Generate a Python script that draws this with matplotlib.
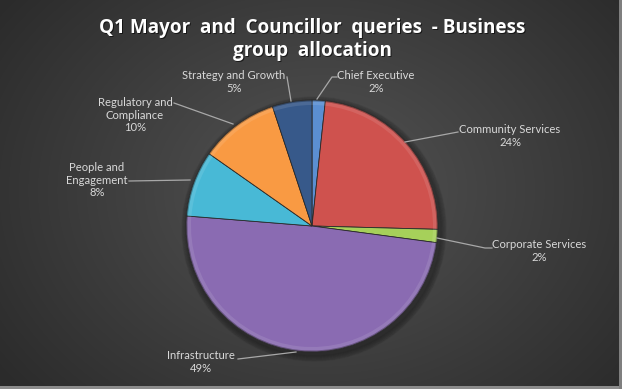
import numpy as np
import matplotlib
matplotlib.use("Agg")
import matplotlib.pyplot as plt
from matplotlib.patches import Wedge

# Query counts per business group (percentages shown on labels)
groups = ["Chief Executive", "Community Services", "Corporate Services",
          "Infrastructure", "People and\nEngagement", "Regulatory and\nCompliance",
          "Strategy and Growth"]
counts = [1, 14, 1, 29, 5, 6, 3]
pct_labels = ["2%", "24%", "2%", "49%", "8%", "10%", "5%"]
colors = ["#5b8fd2", "#cf524e", "#a6d05a", "#8a6bb2", "#48b9d6", "#f99a43", "#37598a"]

W, H = 622, 389
fig = plt.figure(figsize=(W / 100, H / 100), dpi=100)
ax = fig.add_axes([0, 0, 1, 1])
ax.set_xlim(0, W)
ax.set_ylim(0, H)
ax.axis("off")

# radial gradient background
yy, xx = np.mgrid[0:H, 0:W]
d = np.sqrt(((xx - 320) / 420.0) ** 2 + ((yy - 190) / 330.0) ** 2)
g = np.clip(0.33 - 0.17 * d, 0.17, 0.33)
bg = np.dstack([g, g, g])
bg[-3:, :, :] = 0.55
bg[:, -3:, :] = 0.5
ax.imshow(bg, extent=[0, W, 0, H], origin="upper", zorder=0, aspect="auto")

def py(y):
    return H - y

cx, cy, r = 312, py(226), 126

# soft shadow under the pie
for k in range(6):
    ax.add_patch(plt.Circle((cx + 2, cy - 3), r + 6 - k, color="black", alpha=0.05, zorder=1))

wedges, _ = ax.pie(counts, colors=colors, startangle=90, counterclock=False,
                   center=(cx, cy), radius=r, frame=True,
                   wedgeprops=dict(edgecolor="#2a2a2a", linewidth=0.6))
for w in wedges:
    w.set_zorder(2)
ax.set_xlim(0, W)
ax.set_ylim(0, H)
ax.axis("off")

# bevel-like shading: lighter band near the rim, dark outline
for w, c in zip(wedges, colors):
    rim = Wedge((cx, cy), r, w.theta1, w.theta2, width=5, facecolor="white",
                alpha=0.10, edgecolor="none", zorder=3)
    ax.add_patch(rim)
    rim2 = Wedge((cx, cy), r, w.theta1, w.theta2, width=1.5, facecolor="black",
                 alpha=0.3, edgecolor="none", zorder=3)
    ax.add_patch(rim2)

# label text position (centre of text block) and leader line points, in pixels
label_pos = [(376, 82), (510, 136), (539, 251), (201, 362), (97, 180), (135, 115), (234, 82)]
leaders = [
    [(337, 77), (332, 77), (317, 99)],
    [(458, 132), (405, 142)],
    [(492, 248), (485, 248), (437, 238)],
    [(238, 359), (296, 352)],
    [(129, 181), (190, 180)],
    [(174, 103), (233, 124)],
    [(287, 77), (291, 101)],
]

for name, pct, (lx, ly), pts in zip(groups, pct_labels, label_pos, leaders):
    xs = [p[0] for p in pts]
    ys = [py(p[1]) for p in pts]
    ax.plot(xs, ys, color="#a8a8a8", lw=0.9, zorder=4)
    ax.text(lx, py(ly), name + "\n" + pct, ha="center", va="center",
            color="#d9d9d9", fontsize=8.1, family="Lato", linespacing=1.2, zorder=5)

title = "Q1 Mayor  and  Councillor  queries  - Business\ngroup  allocation"
ax.text(W / 2 + 2.5, py(39) - 1.5, title, ha="center", va="center", color="black",
        alpha=0.6, fontsize=13.6, fontweight="bold", family="Open Sans", linespacing=1.2, zorder=5)
ax.text(W / 2 + 1, py(39), title, ha="center", va="center", color="white",
        fontsize=13.6, fontweight="bold", family="Open Sans", linespacing=1.2, zorder=6)

fig.savefig("out.png", dpi=100)
